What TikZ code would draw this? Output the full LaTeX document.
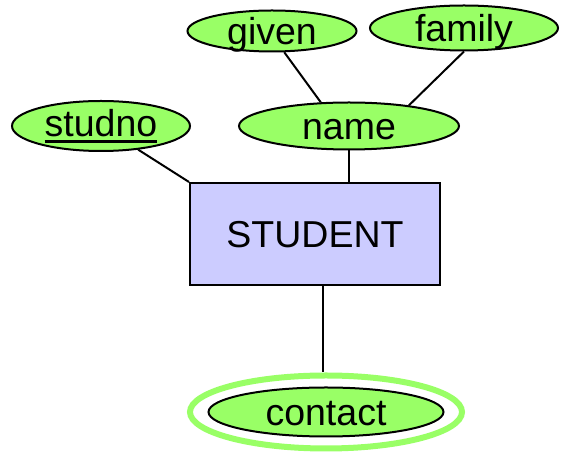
\documentclass[tikz,border=0pt]{standalone}
\usepackage{fontspec}
\setmainfont{Liberation Sans}
\usetikzlibrary{shapes.geometric}
\definecolor{attrgreen}{RGB}{153,255,102}
\definecolor{entityblue}{RGB}{204,204,255}
\newcommand{\keyline}[1]{\setbox0=\hbox{#1}\rlap{\vrule height -3pt depth 6pt width \wd0}\box0}
\tikzstyle{attribute} = [ellipse, draw=black, line width=2pt, fill=attrgreen, inner sep=0pt, text height=28pt, text depth=0pt, font=\fontsize{37.5}{40}\selectfont]
\tikzstyle{entity} = [rectangle, draw=black, line width=2pt, fill=entityblue, minimum width=250pt, minimum height=102pt, text height=28pt, text depth=0pt, font=\fontsize{37.5}{40}\selectfont]
\tikzstyle{link} = [line width=2pt]
\tikzstyle{ring} = [draw=attrgreen, line width=6pt]

\begin{document}
\begin{tikzpicture}[x=1pt, y=1pt]
        \useasboundingbox (0,0) rectangle (563,452);
        \node (student) [entity] at (315,218) {STUDENT};
        \node (studno) [attribute, minimum width=178pt, minimum height=50pt, text height=22pt] at (101,326) {\keyline{studno}};
        \node (name) [attribute, minimum width=220pt, minimum height=47pt] at (349,326) {name};
        \node (given) [attribute, minimum width=169pt, minimum height=41pt] at (272,421) {given};
        \node (family) [attribute, minimum width=188pt, minimum height=45pt] at (464,424) {family};
        \node (contact) [attribute, minimum width=235pt, minimum height=49pt] at (326,40) {contact};
        \draw [ring] (contact.center) ellipse [x radius=136pt, y radius=36.5pt];
        \coordinate (ringtop) at (323,79.5);

        \draw [link] (studno) -- (student.north west);
        \draw [link] (name.south) -- (name.south |- student.north);
        \draw [link] (given.-60) -- (name.140);
        \draw [link] (family.south) -- (name.19);
        \draw [link] (ringtop |- student.south) -- (ringtop);
    \end{tikzpicture}
\end{document}
